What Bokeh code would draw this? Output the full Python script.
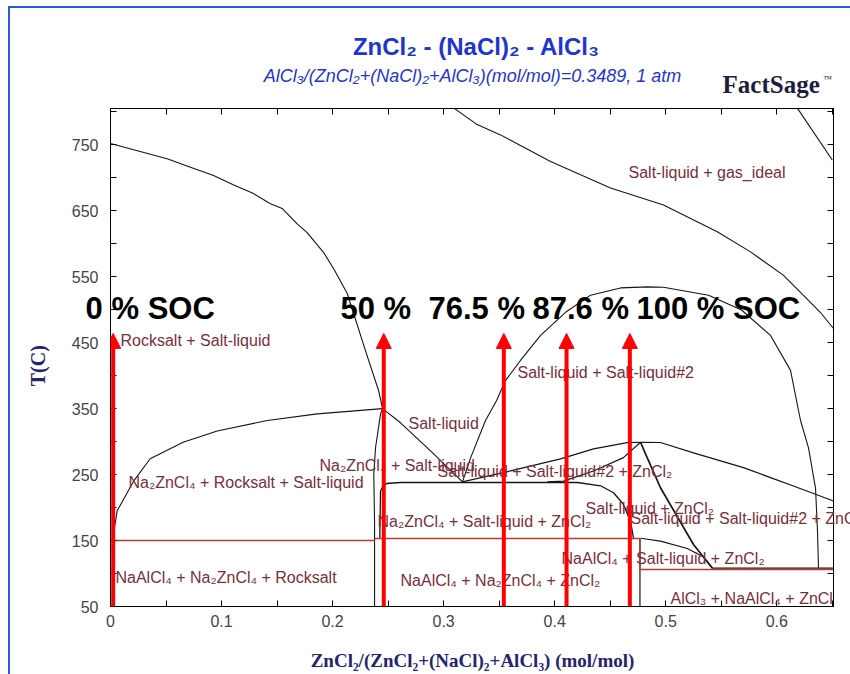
from bokeh.plotting import figure
from bokeh.models import (Label, Arrow, NormalHead, FixedTicker, LinearAxis,
                          CustomJSTickFormatter, Range1d)
from bokeh.embed import file_html
from bokeh.resources import INLINE

# ---------------- data ----------------
x_ticks = [0, 0.1, 0.2, 0.3, 0.4, 0.5, 0.6]
x_minor = [0.05, 0.15, 0.25, 0.35, 0.45, 0.55, 0.65]
y_ticks = [50, 150, 250, 350, 450, 550, 650, 750]
y_minor = [100, 200, 300, 400, 500, 600, 700, 800]

# Rocksalt liquidus
rocksalt_liq_x = [0.0, 0.051, 0.072, 0.0928, 0.111, 0.1288, 0.144, 0.1546, 0.1681, 0.1771,
                  0.1918, 0.201, 0.2132, 0.2296, 0.2414, 0.245]
rocksalt_liq_t = [752, 728.7, 716, 703.4, 689, 676, 660.5, 653.5, 630, 616.7,
                  587, 562, 524.5, 438, 377.5, 350]
# Na2ZnCl4 + Rocksalt + Salt-liquid upper boundary
na2_rs_x = [0.002, 0.006, 0.0208, 0.0357, 0.0654, 0.0961, 0.1412, 0.1862, 0.245]
na2_rs_t = [152, 195, 240, 274, 299, 316, 332, 342, 350]
# Na2ZnCl4 composition line
na2_line_x = [0.245, 0.2432, 0.2387, 0.2371, 0.2378, 0.2378]
na2_line_t = [350, 342, 291, 251, 179, 50]
# peritectic -> eutectic
perit_eut_x = [0.245, 0.2612, 0.2882, 0.317]
perit_eut_t = [350, 328.5, 286, 239]
# Na2ZnCl4 + Salt-liquid + ZnCl2 box
box_x = [0.2425, 0.2432, 0.245, 0.2486, 0.2612, 0.4206, 0.4413, 0.453, 0.4619, 0.4683, 0.471]
box_t = [153, 225, 231, 236.5, 238, 238, 233, 222.5, 205, 179, 153.5]
# Salt-liquid + Salt-liquid#2 + ZnCl2 upper line
three_up_x = [0.3167, 0.3602, 0.4053, 0.435, 0.4653, 0.4773, 0.4953, 0.525, 0.570, 0.615, 0.6511]
three_up_t = [239, 255.5, 273.7, 289, 298.5, 299, 298.6, 283, 260.5, 232.6, 210]
# lower line
three_lo_x = [0.3933, 0.408, 0.435, 0.4619, 0.4773]
three_lo_t = [239, 240, 255.5, 275.7, 299]
# ZnCl2 liquidus from the peak
zn_liq_x = [0.4773, 0.4833, 0.4953, 0.525, 0.5421]
zn_liq_t = [299, 275.7, 230, 144, 108]
# miscibility gap dome
dome_x = [0.317, 0.3242, 0.3377, 0.3476, 0.3557, 0.3692, 0.3873, 0.4098, 0.4323, 0.4593,
          0.4836, 0.498, 0.5386, 0.5683, 0.5944, 0.6124, 0.6214, 0.6286, 0.6349, 0.6367, 0.6376]
dome_t = [239, 275, 332, 362, 392.5, 423, 461, 496, 522, 533,
          534.5, 534, 522, 499.5, 461, 408, 332, 290.5, 229.6, 164, 108]
# gas boundary
gas_x = [0.3089, 0.3302, 0.3512, 0.3963, 0.4503, 0.498, 0.5464, 0.5764, 0.6061, 0.6241, 0.6394, 0.6511]
gas_t = [806, 780.6, 765, 724.7, 684.6, 658.7, 618, 587.6, 552, 521.7, 495.7, 471.5]
gas2_x = [0.6184, 0.65]
gas2_t = [806, 727]
# NaAlCl4 + Salt-liquid + ZnCl2 upper curve
naal_x = [0.4773, 0.4953, 0.5194, 0.5341, 0.5421, 0.6511]
naal_t = [153.5, 149, 138, 125, 108.3, 108.3]
# NaAlCl4 composition line (lower right)
naal_line_x = [0.4768, 0.4768]
naal_line_t = [153, 50]
# red invariant lines
red1_x = [0.0, 0.2378]
red1_t = [150, 150]
red2_x = [0.2378, 0.4768, 0.4768, 0.6511]
red2_t = [153, 153, 106, 106]

# SOC arrows
soc_x = [0.0024, 0.2461, 0.3542, 0.4107, 0.4677]
soc_labels = ["% SOC", "50 %", "76.5 %", "87.6 %", "100 % SOC"]
soc_label_x = [0.0009, 0.2071, 0.2864, 0.38, 0.4737]
soc_label_t = 502
arrow_t0 = 50
arrow_t1 = 464

# phase labels
phase_text = ["Salt-liquid + gas_ideal", "Rocksalt + Salt-liquid", "Salt-liquid + Salt-liquid#2",
              "Salt-liquid", "Na\u2082ZnCl\u2084 + Salt-liquid", "Salt-liquid + Salt-liquid#2 + ZnCl\u2082",
              "Na\u2082ZnCl\u2084 + Rocksalt + Salt-liquid", "Salt-liquid + ZnCl\u2082",
              "Na\u2082ZnCl\u2084 + Salt-liquid + ZnCl\u2082",
              "NaAlCl\u2084 + Salt-liquid + ZnCl\u2082", "NaAlCl\u2084 + Na\u2082ZnCl\u2084 + Rocksalt",
              "NaAlCl\u2084 + Na\u2082ZnCl\u2084 + ZnCl\u2082", "AlCl\u2083 + NaAlCl\u2084 + ZnCl\u2082"]
phase_x = [0.4665, 0.009, 0.3665, 0.2684, 0.1882, 0.2945, 0.0162, 0.4278, 0.2405,
           0.4062, 0.0045, 0.2612, 0.5043]
phase_t = [708, 453, 405, 327, 264, 255, 238, 198.6, 179, 122.8, 94, 89, 62]
# label running past the right edge of the frame (as in the original)
edge_text = "Salt-liquid + Salt-liquid#2 + ZnCl\u2082"
edge_x = 0.4683
edge_t = 183

# ---------------- figure ----------------
p = figure(width=850, height=674, output_backend="svg", toolbar_location=None,
           x_range=Range1d(0, 0.6511), y_range=Range1d(50, 805),
           min_border_left=110, min_border_right=17, min_border_top=108, min_border_bottom=68,
           x_axis_type=None, y_axis_type=None)
p.outline_line_color = "black"
p.outline_line_width = 1
p.xgrid.visible = False
p.ygrid.visible = False
p.background_fill_color = "white"
p.border_fill_color = None
# blue window frame lines (page decoration behind the canvas)
p.styles = {
    "background-color": "white",
    "background-image": "linear-gradient(#2a5ad6, #2a5ad6), linear-gradient(#2a5ad6, #2a5ad6)",
    "background-position": "8px 6px, 8px 6px",
    "background-size": "2px 668px, 842px 2px",
    "background-repeat": "no-repeat",
}

xfmt = CustomJSTickFormatter(code="return Math.abs(tick) < 1e-9 ? '0' : tick.toFixed(1);")
hidefmt = CustomJSTickFormatter(code="return '';")

def style_axis(ax, show):
    ax.axis_line_color = "black"
    ax.major_tick_in = 6
    ax.major_tick_out = 0
    ax.minor_tick_in = 6
    ax.minor_tick_out = 0
    ax.major_tick_line_color = "black"
    ax.minor_tick_line_color = "black"
    ax.major_label_text_font = "Liberation Sans"
    ax.major_label_text_font_size = "16px" if show else "0px"
    ax.major_label_text_color = "#444444"

xb = LinearAxis(ticker=FixedTicker(ticks=x_ticks, minor_ticks=x_minor), formatter=xfmt)
style_axis(xb, True)
xb.major_label_standoff = 8
p.add_layout(xb, "below")
xt = LinearAxis(ticker=FixedTicker(ticks=x_ticks, minor_ticks=x_minor), formatter=hidefmt)
style_axis(xt, False)
xt.major_label_standoff = 0
p.add_layout(xt, "above")
yl = LinearAxis(ticker=FixedTicker(ticks=y_ticks, minor_ticks=y_minor))
style_axis(yl, True)
yl.major_label_standoff = 12
p.add_layout(yl, "left")
yr = LinearAxis(ticker=FixedTicker(ticks=y_ticks, minor_ticks=y_minor), formatter=hidefmt)
style_axis(yr, False)
yr.major_label_standoff = 0
p.add_layout(yr, "right")

# phase boundaries
black = "#151515"
for xs, ts, w in [(rocksalt_liq_x, rocksalt_liq_t, 1.1), (na2_rs_x, na2_rs_t, 1.1),
                  (na2_line_x, na2_line_t, 1.1), (perit_eut_x, perit_eut_t, 1.1),
                  (box_x, box_t, 1.3), (three_up_x, three_up_t, 1.2), (three_lo_x, three_lo_t, 1.2),
                  (zn_liq_x, zn_liq_t, 1.7), (dome_x, dome_t, 1.1), (gas_x, gas_t, 1.1),
                  (gas2_x, gas2_t, 1.1), (naal_x, naal_t, 1.2), (naal_line_x, naal_line_t, 1.2)]:
    p.line(xs, ts, line_color=black, line_width=w)

red = "#c0392b"
p.line(red1_x, red1_t, line_color=red, line_width=1.5)
p.line(red2_x, red2_t, line_color=red, line_width=1.5)

# phase labels
label_color = "#7a2e3a"
for txt, lx, lt in zip(phase_text, phase_x, phase_t):
    p.add_layout(Label(x=lx, y=lt, text=txt, text_font="Liberation Sans", text_font_size="16px",
                       text_color=label_color, text_baseline="middle", text_align="left"))
p.add_layout(Label(x=edge_x, y=edge_t, text=edge_text, text_font="Liberation Sans",
                   text_font_size="16px", text_color=label_color, text_baseline="middle",
                   text_align="left"), "above")

# arrows
for ax_ in soc_x:
    p.add_layout(Arrow(end=NormalHead(size=15, fill_color="#ff0000", line_color="#ff0000"),
                       x_start=ax_, y_start=arrow_t0, x_end=ax_, y_end=arrow_t1,
                       line_color="#ff0000", line_width=4))

for txt, lx in zip(soc_labels, soc_label_x):
    p.add_layout(Label(x=lx, y=soc_label_t, text=txt, text_font="Liberation Sans",
                       text_font_size="31px", text_font_style="bold", text_color="black",
                       text_baseline="middle"))
# the leading "0" of "0 % SOC" sits left of the frame -> side panel (not clipped)
p.add_layout(Label(x=-0.0225, y=soc_label_t, text="0", text_font="Liberation Sans",
                   text_font_size="31px", text_font_style="bold", text_color="black",
                   text_baseline="middle"), "left")

# titles (side panel above the frame)
blue = "#1f35d0"
p.add_layout(Label(x=0.3296, y=899, text="ZnCl\u2082 - (NaCl)\u2082 - AlCl\u2083",
                   text_font="Liberation Sans", text_font_size="24px", text_font_style="bold",
                   text_color=blue, text_align="center", text_baseline="middle"), "above")
p.add_layout(Label(x=0.326, y=855,
                   text="AlCl\u2083/(ZnCl\u2082+(NaCl)\u2082+AlCl\u2083)(mol/mol)=0.3489, 1 atm",
                   text_font="Liberation Sans", text_font_size="18px", text_font_style="italic",
                   text_color=blue, text_align="center", text_baseline="middle"), "above")
p.add_layout(Label(x=0.5512, y=841, text="FactSage", text_font="Liberation Serif",
                   text_font_size="25px", text_font_style="bold", text_color="#1d1d3d",
                   text_baseline="middle"), "above")
p.add_layout(Label(x=0.642, y=850, text="\u2122", text_font="Liberation Serif", text_font_size="9px",
                   text_color="#1d1d3d", text_baseline="middle"), "right")

# axis titles
navy = "#23236e"
p.add_layout(Label(x=0.326, y=-32, text="ZnCl\u2082/(ZnCl\u2082+(NaCl)\u2082+AlCl\u2083) (mol/mol)",
                   text_font="Liberation Serif", text_font_size="19px", text_font_style="bold",
                   text_color=navy, text_align="center", text_baseline="middle"), "below")
p.add_layout(Label(x=-0.0653, y=415, text="T(C)", angle=1.5707963,
                   text_font="Liberation Serif", text_font_size="20px", text_font_style="bold",
                   text_color=navy, text_align="center", text_baseline="middle"), "left")

open("out.html", "w").write(file_html(p, INLINE))
